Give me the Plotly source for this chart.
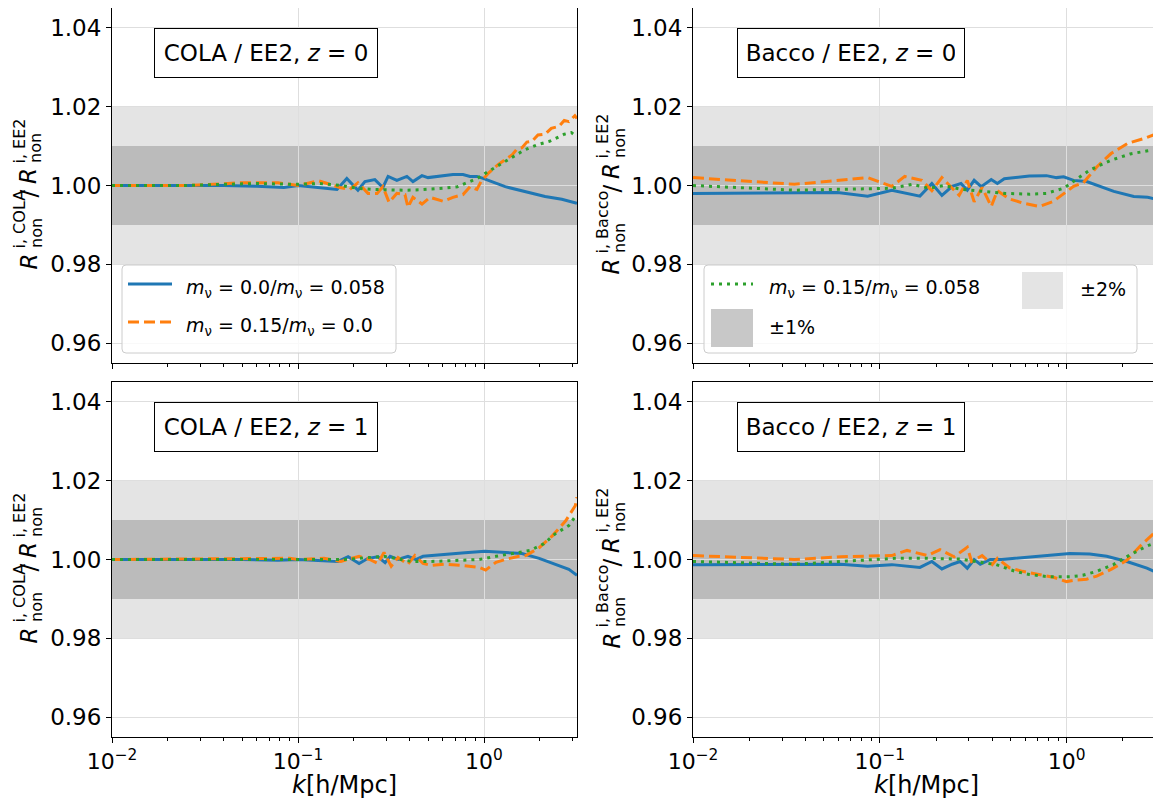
import plotly.graph_objects as go

W, H = 1161, 800
OFF = 8                     # browser body margin
FW, FH = W - OFF, H - OFF   # figure size so the page is exactly filled

# ---------------- data ----------------
# COLA / EE2, z = 0
k_cola_z0_m00 = [0.01, 0.02, 0.04, 0.06, 0.084, 0.1, 0.162, 0.183, 0.210, 0.229, 0.259, 0.286, 0.305, 0.340, 0.385,
                 0.415, 0.464, 0.500, 0.558, 0.603, 0.681, 0.771, 0.841, 0.916, 0.989, 1.30, 1.73, 2.13, 2.62, 3.16]
r_cola_z0_m00 = [1.0000, 1.0000, 1.0000, 0.9998, 0.9995, 1.0000, 0.9990, 1.0018, 0.9988, 1.0010, 1.0015, 0.9995,
                 1.0023, 1.0013, 1.0023, 1.0010, 1.0025, 1.0020, 1.0023, 1.0025, 1.0028, 1.0028, 1.0023, 1.0023,
                 1.0018, 0.9997, 0.9983, 0.9972, 0.9965, 0.9955]
k_cola_z0_m15 = [0.01, 0.025, 0.05, 0.078, 0.1, 0.129, 0.168, 0.19, 0.21, 0.238, 0.266, 0.286, 0.309, 0.34, 0.376,
                 0.39, 0.415, 0.464, 0.513, 0.603, 0.681, 0.771, 0.841, 0.916, 0.964, 1.05, 1.19, 1.42, 1.50, 1.60,
                 1.70, 1.81, 1.95, 2.13, 2.30, 2.53, 2.70, 2.86, 3.08, 3.16]
r_cola_z0_m15 = [1.0000, 1.0000, 1.0007, 1.0007, 1.0000, 1.0012, 0.9995, 0.9990, 1.0007, 0.9980, 0.9980, 0.9997,
                 0.9957, 0.9980, 0.9977, 0.9945, 0.9970, 0.9953, 0.9970, 0.9960, 0.9970, 0.9977, 0.9997, 0.9990,
                 1.0010, 1.0030, 1.0053, 1.0078, 1.0092, 1.0096, 1.0110, 1.0112, 1.0128, 1.0130, 1.0145, 1.0150,
                 1.0165, 1.0162, 1.0177, 1.0170]
k_cola_z0_m15b = [0.01, 0.025, 0.04, 0.06, 0.1, 0.13, 0.17, 0.21, 0.25, 0.31, 0.376, 0.45, 0.513, 0.60, 0.72, 0.84,
                  0.92, 1.05, 1.19, 1.42, 1.65, 1.95, 2.25, 2.70, 2.95, 3.16]
r_cola_z0_m15b = [1.0000, 1.0000, 1.0003, 1.0005, 1.0003, 1.0005, 1.0000, 0.9993, 0.9990, 0.9988, 0.9988, 0.9989,
                  0.9990, 0.9993, 0.9997, 1.0010, 1.0018, 1.0035, 1.0050, 1.0073, 1.0090, 1.0104, 1.0112, 1.0130,
                  1.0134, 1.0124]

# Bacco / EE2, z = 0
k_bacco_z0_m00 = [0.01, 0.0594, 0.0861, 0.116, 0.164, 0.19, 0.215, 0.244, 0.272, 0.294, 0.32, 0.349, 0.395, 0.426,
                  0.464, 0.538, 0.632, 0.78, 0.883, 0.964, 1.09, 1.28, 1.45, 1.79, 2.29, 2.72, 3.16]
r_bacco_z0_m00 = [0.9980, 0.9982, 0.9973, 0.9988, 0.9973, 1.0005, 0.9975, 0.9998, 1.0005, 0.9988, 1.0013, 0.9997,
                  1.0015, 1.0005, 1.0017, 1.0020, 1.0024, 1.0025, 1.0020, 1.0022, 1.0013, 1.0010, 1.0000, 0.9985,
                  0.9972, 0.9970, 0.9963]
k_bacco_z0_m15 = [0.01, 0.0349, 0.0573, 0.0861, 0.116, 0.136, 0.168, 0.19, 0.215, 0.266, 0.294, 0.32, 0.353, 0.395,
                  0.426, 0.494, 0.588, 0.716, 0.851, 0.964, 1.09, 1.23, 1.45, 1.73, 2.13, 2.63, 3.16]
r_bacco_z0_m15 = [1.0020, 1.0003, 1.0012, 1.0020, 0.9998, 1.0023, 1.0013, 0.9987, 1.0020, 0.9975, 1.0013, 0.9959,
                  0.9995, 0.9947, 0.9987, 0.9966, 0.9955, 0.9947, 0.9960, 0.9980, 0.9998, 1.0007, 1.0047, 1.0081,
                  1.0107, 1.0120, 1.0134]
k_bacco_z0_m15b = [0.01, 0.0349, 0.116, 0.149, 0.183, 0.22, 0.275, 0.327, 0.385, 0.47, 0.632, 0.78, 0.964, 1.09,
                   1.34, 1.73, 2.19, 2.72, 3.16]
r_bacco_z0_m15b = [1.0000, 0.9988, 0.9993, 1.0003, 0.9993, 1.0000, 0.9990, 0.9987, 0.9983, 0.9980, 0.9978, 0.9980,
                   0.9993, 1.0010, 1.0040, 1.0064, 1.0080, 1.0088, 1.0093]

# COLA / EE2, z = 1
k_cola_z1_m00 = [0.01, 0.05, 0.078, 0.1, 0.164, 0.186, 0.213, 0.238, 0.269, 0.294, 0.313, 0.345, 0.39, 0.43, 0.47,
                 0.519, 0.617, 0.79, 1.01, 1.30, 1.60, 1.98, 2.41, 2.86, 3.16]
r_cola_z1_m00 = [1.0000, 1.0000, 0.9998, 1.0000, 0.9995, 1.0007, 0.9990, 1.0003, 1.0007, 0.9992, 1.0008, 1.0000,
                 1.0008, 1.0000, 1.0008, 1.0010, 1.0013, 1.0017, 1.0021, 1.0018, 1.0015, 1.0003, 0.9988, 0.9975,
                 0.9960]
k_cola_z1_m15 = [0.01, 0.058, 0.09, 0.1, 0.138, 0.17, 0.213, 0.243, 0.269, 0.29, 0.317, 0.345, 0.39, 0.425, 0.47,
                 0.519, 0.617, 0.76, 0.94, 1.02, 1.16, 1.30, 1.54, 1.68, 1.98, 2.33, 2.75, 3.10, 3.16]
r_cola_z1_m15 = [1.0000, 1.0003, 1.0003, 1.0000, 1.0003, 0.9995, 1.0008, 1.0000, 0.9990, 1.0018, 0.9983, 1.0005,
                 0.9988, 1.0010, 0.9990, 0.9985, 0.9988, 0.9985, 0.9980, 0.9973, 0.9993, 1.0000, 1.0008, 1.0010,
                 1.0030, 1.0060, 1.0098, 1.0137, 1.0158]
k_cola_z1_m15b = [0.01, 0.1, 0.177, 0.29, 0.345, 0.41, 0.52, 0.62, 0.75, 0.94, 1.16, 1.43, 1.77, 2.10, 2.41, 2.86,
                  3.16]
r_cola_z1_m15b = [1.0000, 1.0000, 1.0000, 1.0008, 1.0002, 0.9995, 0.9995, 0.9996, 0.9998, 1.0000, 1.0008, 1.0015,
                  1.0023, 1.0040, 1.0065, 1.0086, 1.0115]

# Bacco / EE2, z = 1
k_bacco_z1_m00 = [0.01, 0.0617, 0.0861, 0.116, 0.164, 0.19, 0.215, 0.244, 0.269, 0.294, 0.32, 0.345, 0.39, 0.45,
                  0.53, 0.632, 0.81, 1.04, 1.33, 1.64, 2.10, 2.69, 3.16]
r_bacco_z1_m00 = [0.9987, 0.9988, 0.9983, 0.9987, 0.9980, 0.9995, 0.9976, 0.9988, 0.9995, 0.9978, 1.0000, 0.9988,
                  1.0000, 1.0000, 1.0003, 1.0006, 1.0012, 1.0015, 1.0014, 1.0008, 0.9995, 0.9978, 0.9963]
k_bacco_z1_m15 = [0.01, 0.0349, 0.0617, 0.116, 0.14, 0.18, 0.21, 0.25, 0.294, 0.31, 0.353, 0.40, 0.426, 0.494, 0.58,
                  0.716, 0.85, 1.00, 1.09, 1.28, 1.45, 1.73, 2.10, 2.50, 2.93, 3.16]
r_bacco_z1_m15 = [1.0010, 1.0000, 1.0007, 1.0010, 1.0023, 1.0010, 1.0025, 1.0007, 1.0031, 0.9995, 1.0010, 0.9987,
                  1.0003, 0.9979, 0.9970, 0.9961, 0.9955, 0.9944, 0.9947, 0.9950, 0.9958, 0.9975, 0.9998, 1.0036,
                  1.0066, 1.0085]
k_bacco_z1_m15b = [0.01, 0.0349, 0.12, 0.18, 0.27, 0.33, 0.42, 0.53, 0.632, 0.81, 1.04, 1.22, 1.45, 1.78, 2.19,
                   2.69, 3.16]
r_bacco_z1_m15b = [0.9995, 0.9988, 1.0003, 1.0003, 1.0001, 0.9995, 0.9987, 0.9970, 0.9962, 0.9956, 0.9956, 0.9960,
                   0.9970, 0.9987, 1.0012, 1.0034, 1.0047]

series_names = ["<i>m</i><sub>ν</sub> = 0.0/<i>m</i><sub>ν</sub> = 0.058",
                "<i>m</i><sub>ν</sub> = 0.15/<i>m</i><sub>ν</sub> = 0.0",
                "<i>m</i><sub>ν</sub> = 0.15/<i>m</i><sub>ν</sub> = 0.058"]
band_2pct = [0.98, 1.02]
band_1pct = [0.99, 1.01]
band_labels = ["±2%", "±1%"]

x_tickvals = [0.01, 0.1, 1.0]
x_ticktext = ["10<sup>−2</sup>", "10<sup>−1</sup>", "10<sup>0</sup>"]
x_minorvals = [0.02, 0.03, 0.04, 0.05, 0.06, 0.07, 0.08, 0.09,
               0.2, 0.3, 0.4, 0.5, 0.6, 0.7, 0.8, 0.9, 2.0, 3.0]
y_tickvals = [0.96, 0.98, 1.00, 1.02, 1.04]
y_ticktext = ["0.96", "0.98", "1.00", "1.02", "1.04"]
x_title = "<i>k</i>[h/Mpc]"

# ---------------- styling ----------------
FONT = "DejaVu Sans"
C_BLUE, C_ORANGE, C_GREEN = "#1f77b4", "#ff7f0e", "#2ca02c"
DASH_ORANGE = "11px,5px"
DASH_GREEN = "3px,5px"
BAND2_COL = "rgb(228,228,228)"
BAND1_COL = "rgb(187,187,187)"
GRID_COL = "rgb(222,222,222)"


def px(x):
    return (x - OFF) / FW


def py(y):
    return 1 - (y - OFF) / FH


XDOM = {"L": [px(112), px(577)], "R": [px(693), px(1160)]}
YDOM = {"T": [py(363), py(8)], "B": [py(737), py(382)]}

panels = [
    dict(i=1, col="L", row="T", sim="COLA", z="0",
         data=[(k_cola_z0_m00, r_cola_z0_m00), (k_cola_z0_m15, r_cola_z0_m15), (k_cola_z0_m15b, r_cola_z0_m15b)]),
    dict(i=2, col="R", row="T", sim="Bacco", z="0",
         data=[(k_bacco_z0_m00, r_bacco_z0_m00), (k_bacco_z0_m15, r_bacco_z0_m15), (k_bacco_z0_m15b, r_bacco_z0_m15b)]),
    dict(i=3, col="L", row="B", sim="COLA", z="1",
         data=[(k_cola_z1_m00, r_cola_z1_m00), (k_cola_z1_m15, r_cola_z1_m15), (k_cola_z1_m15b, r_cola_z1_m15b)]),
    dict(i=4, col="R", row="B", sim="Bacco", z="1",
         data=[(k_bacco_z1_m00, r_bacco_z1_m00), (k_bacco_z1_m15, r_bacco_z1_m15), (k_bacco_z1_m15b, r_bacco_z1_m15b)]),
]
styles = [dict(color=C_BLUE, dash="solid"), dict(color=C_ORANGE, dash=DASH_ORANGE), dict(color=C_GREEN, dash=DASH_GREEN)]

fig = go.Figure()
layout = dict(width=FW, height=FH, margin=dict(l=0, r=0, t=0, b=0), paper_bgcolor="white", plot_bgcolor="white",
              showlegend=False, font=dict(family=FONT, color="black"))
shapes, annotations = [], []

for p in panels:
    i = p["i"]
    sx = "" if i == 1 else str(i)
    xa, ya = "x" + sx, "y" + sx
    for (k, r), st, name in zip(p["data"], styles, series_names):
        fig.add_trace(go.Scatter(x=k, y=r, xaxis=xa, yaxis=ya, mode="lines", name=name,
                                 line=dict(color=st["color"], width=3, dash=st["dash"])))
    bottom = p["row"] == "B"
    layout["xaxis" + sx] = dict(
        domain=XDOM[p["col"]], anchor=ya, type="log", range=[-2, 0.5],
        tickmode="array", tickvals=x_tickvals, ticktext=x_ticktext,
        showticklabels=bottom, ticks="outside", ticklen=5, tickwidth=1, tickcolor="black",
        minor=dict(tickmode="array", tickvals=x_minorvals, ticks="outside", ticklen=3, tickwidth=1,
                   tickcolor="black", showgrid=False),
        showline=True, linecolor="black", linewidth=1, mirror=True,
        showgrid=True, gridcolor=GRID_COL, gridwidth=1, zeroline=False,
        tickfont=dict(family=FONT, size=22, color="black"),
        automargin=False,
    )
    layout["yaxis" + sx] = dict(
        domain=YDOM[p["row"]], anchor=xa, range=[0.955, 1.045],
        tickmode="array", tickvals=y_tickvals, ticktext=y_ticktext,
        ticks="outside", ticklen=5, tickwidth=1, tickcolor="black",
        showline=True, linecolor="black", linewidth=1, mirror=True,
        showgrid=True, gridcolor=GRID_COL, gridwidth=1, zeroline=False,
        tickfont=dict(family=FONT, size=23, color="black"), automargin=False,
    )
    # bands
    shapes.append(dict(type="rect", xref=xa + " domain", yref=ya, x0=0, x1=1, y0=band_2pct[0], y1=band_2pct[1],
                       fillcolor=BAND2_COL, line=dict(width=0), layer="below"))
    shapes.append(dict(type="rect", xref=xa + " domain", yref=ya, x0=0, x1=1, y0=band_1pct[0], y1=band_1pct[1],
                       fillcolor=BAND1_COL, line=dict(width=0), layer="below"))
    # x-axis title below the bottom panels
    if bottom:
        annotations.append(dict(xref=xa + " domain", yref="paper", x=0.5, y=0.0, text=x_title,
                                showarrow=False, xanchor="center", yanchor="bottom", borderpad=0,
                                font=dict(family=FONT, size=24, color="black")))
    # label box
    annotations.append(dict(xref=xa + " domain", yref=ya + " domain",
                            x=0.331 if p["col"] == "L" else 0.338, y=0.873,
                            text=f"{p['sim']} / EE2, <i>z</i> = {p['z']}", showarrow=False,
                            font=dict(family=FONT, size=23, color="black"),
                            bgcolor="white", bordercolor="black", borderwidth=1, borderpad=9,
                            width=204 if p["sim"] == "COLA" else 208, height=30,
                            xanchor="center", yanchor="middle"))
    # y-axis title (stacked super/subscripts)
    cx = 28 if p["col"] == "L" else 611
    cy = 186 if p["row"] == "T" else 560
    extra = 0 if p["sim"] == "COLA" else 5
    pieces = [
        (0, 75.5 + extra, "middle", "<i>R</i>", 23),
        (-9, 65 + extra, "bottom", f"i, {p['sim']}", 16),
        (8, 64 + extra, "bottom", "non", 16),
        (0, 7.5 - extra, "middle", "/", 23),
        (0, -10 - extra, "middle", "<i>R</i>", 23),
        (-9, -20 - extra, "bottom", "i, EE2", 16),
        (8, -21 - extra, "bottom", "non", 16),
    ]
    for dx, dy, yanc, txt, sz in pieces:
        annotations.append(dict(xref="paper", yref="paper", x=px(cx + dx), y=py(cy + dy), text=txt,
                                textangle=-90, showarrow=False, xanchor="center", yanchor=yanc,
                                font=dict(family=FONT, size=sz, color="black")))


def rounded_box(x0, y0, x1, y1, r=4):
    return (f"M {px(x0 + r)},{py(y0)} L {px(x1 - r)},{py(y0)} Q {px(x1)},{py(y0)} {px(x1)},{py(y0 + r)} "
            f"L {px(x1)},{py(y1 - r)} Q {px(x1)},{py(y1)} {px(x1 - r)},{py(y1)} "
            f"L {px(x0 + r)},{py(y1)} Q {px(x0)},{py(y1)} {px(x0)},{py(y1 - r)} "
            f"L {px(x0)},{py(y0 + r)} Q {px(x0)},{py(y0)} {px(x0 + r)},{py(y0)} Z")


LEG_FONT = dict(family=FONT, size=19, color="black")
# legend, top-left
shapes.append(dict(type="path", xref="paper", yref="paper", path=rounded_box(122, 265, 396, 353),
                   fillcolor="rgba(255,255,255,0.8)", line=dict(color="rgb(204,204,204)", width=1), layer="above"))
for (yy, st, name) in [(284, styles[0], series_names[0]), (322, styles[1], series_names[1])]:
    shapes.append(dict(type="line", xref="paper", yref="paper", x0=px(128), x1=px(172), y0=py(yy), y1=py(yy),
                       line=dict(color=st["color"], width=3, dash=st["dash"]), layer="above"))
    annotations.append(dict(xref="paper", yref="paper", x=px(184), y=py(yy + 4), text=name, showarrow=False,
                            xanchor="left", yanchor="middle", font=LEG_FONT))
# legend, top-right
shapes.append(dict(type="path", xref="paper", yref="paper", path=rounded_box(704, 265, 1137, 353),
                   fillcolor="rgba(255,255,255,0.8)", line=dict(color="rgb(204,204,204)", width=1), layer="above"))
shapes.append(dict(type="line", xref="paper", yref="paper", x0=px(711), x1=px(753), y0=py(284), y1=py(284),
                   line=dict(color=C_GREEN, width=3, dash=DASH_GREEN), layer="above"))
annotations.append(dict(xref="paper", yref="paper", x=px(767), y=py(288), text=series_names[2], showarrow=False,
                        xanchor="left", yanchor="middle", font=LEG_FONT))
shapes.append(dict(type="rect", xref="paper", yref="paper", x0=px(1022), x1=px(1063), y0=py(309), y1=py(272),
                   fillcolor=BAND2_COL, line=dict(width=0), layer="above"))
annotations.append(dict(xref="paper", yref="paper", x=px(1078), y=py(289), text=band_labels[0], showarrow=False,
                        xanchor="left", yanchor="middle", font=LEG_FONT))
shapes.append(dict(type="rect", xref="paper", yref="paper", x0=px(711), x1=px(753), y0=py(347), y1=py(309),
                   fillcolor="rgb(200,200,200)", line=dict(width=0), layer="above"))
annotations.append(dict(xref="paper", yref="paper", x=px(767), y=py(327), text=band_labels[1], showarrow=False,
                        xanchor="left", yanchor="middle", font=LEG_FONT))

layout["shapes"] = shapes
layout["annotations"] = annotations
fig.update_layout(**layout)
fig.write_html("out.html")
